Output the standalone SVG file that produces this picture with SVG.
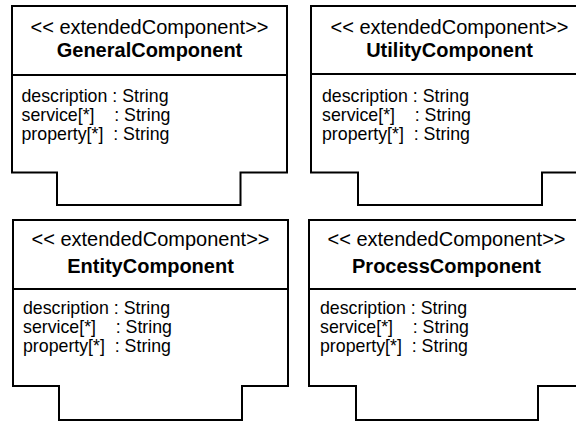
<svg xmlns="http://www.w3.org/2000/svg" width="576" height="421" viewBox="0 0 576 421">
  <style>
    .shape { fill: #ffffff; stroke: #000000; stroke-width: 2; stroke-linejoin: miter; }
    .divider { stroke: #000000; stroke-width: 2; }
    .stereo { font-family: "Liberation Sans", Arial, sans-serif; font-size: 20px; fill: #000; text-anchor: middle; }
    .name { font-family: "Liberation Sans", Arial, sans-serif; font-size: 20px; font-weight: bold; fill: #000; text-anchor: middle; }
    .attr { font-family: "Liberation Sans", Arial, sans-serif; font-size: 17.75px; fill: #000; white-space: pre; }
  </style>

  <!-- General component -->
  <g id="general-component">
    <path class="shape" d="M12,6 H287 V172.5 H240.5 V205 H57 V172.5 H12 Z"/>
    <line class="divider" x1="12" y1="75" x2="287" y2="75"/>
    <text class="stereo" x="149.5" y="34">&lt;&lt; extendedComponent&gt;&gt;</text>
    <text class="name" x="149.5" y="57">GeneralComponent</text>
    <text class="attr" x="21.5" y="102">description : String</text>
    <text class="attr" x="21.5" y="121">service[*]    : String</text>
    <text class="attr" x="21.5" y="140">property[*]  : String</text>
  </g>

  <!-- Utility component -->
  <g id="utility-component">
    <path class="shape" d="M311,6 H588 V172.5 H542 V205 H358 V172.5 H311 Z"/>
    <line class="divider" x1="311" y1="74" x2="588" y2="74"/>
    <text class="stereo" x="449.5" y="34">&lt;&lt; extendedComponent&gt;&gt;</text>
    <text class="name" x="449.5" y="57">UtilityComponent</text>
    <text class="attr" x="322" y="102">description : String</text>
    <text class="attr" x="322" y="121">service[*]    : String</text>
    <text class="attr" x="322" y="140">property[*]  : String</text>
  </g>

  <!-- Entity component -->
  <g id="entity-component">
    <path class="shape" d="M13,220 H288 V386 H242 V420 H59 V386 H13 Z"/>
    <line class="divider" x1="13" y1="289" x2="288" y2="289"/>
    <text class="stereo" x="150.5" y="246">&lt;&lt; extendedComponent&gt;&gt;</text>
    <text class="name" x="150.5" y="273">EntityComponent</text>
    <text class="attr" x="23" y="314">description : String</text>
    <text class="attr" x="23" y="333">service[*]    : String</text>
    <text class="attr" x="23" y="352">property[*]  : String</text>
  </g>

  <!-- Process component -->
  <g id="process-component">
    <path class="shape" d="M309,220 H584 V386 H538 V420 H356 V386 H309 Z"/>
    <line class="divider" x1="309" y1="289" x2="584" y2="289"/>
    <text class="stereo" x="446.5" y="246">&lt;&lt; extendedComponent&gt;&gt;</text>
    <text class="name" x="446.5" y="273">ProcessComponent</text>
    <text class="attr" x="320" y="314">description : String</text>
    <text class="attr" x="320" y="333">service[*]    : String</text>
    <text class="attr" x="320" y="352">property[*]  : String</text>
  </g>

  <!-- no connectors between the components -->
  <g id="connectors"/>
</svg>
